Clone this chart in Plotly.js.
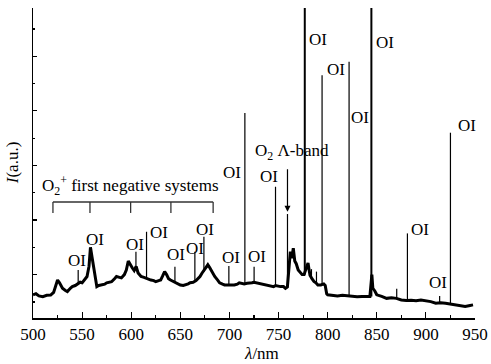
<!DOCTYPE html>
<html>
<head>
<meta charset="utf-8">
<script src="https://cdn.plot.ly/plotly-3.0.1.min.js"></script>
<style>html,body{margin:0;padding:0;background:#fff;}#chart{width:491px;height:364px;}</style>
</head>
<body>
<div id="chart"></div>
<script>
// Continuum (background spectrum): wavelength (nm) and intensity (a.u.)
var contWl = [500,503,506,510,514,518,521,523,525,527,530,533,535,538,540,543,546,548,550,553,555,557,558.5,560,561.5,563,565,567,570,573,575,578,580,583,585,588,590,593,595,597,599,601,603,605,607,610,613,616,620,623,625,628,630,632,634,636,638,640,643,645,648,650,653,655,658,660,663,666,668,670,672,674,676,678,680,682,685,688,690,693,695,698,700,703,705,708,710,713,715,718,720,723,725,728,730,735,740,743,745,747,749,752,755,757,759,760.5,762,763.5,765,766.5,768,770,772,774,776,778,780,781,782,784,786,788,790,793,796,797.5,799,800,805,810,815,820,823,825,830,835,840,843,845,846,848,850,855,860,865,870,875,880,885,890,895,900,905,910,915,920,925,930,935,940,945,948];
var contI  = [0.26,0.30,0.22,0.19,0.24,0.25,0.35,0.60,0.80,0.70,0.50,0.42,0.38,0.50,0.56,0.60,0.68,0.72,0.70,0.85,0.93,1.30,2.00,1.66,1.30,0.93,0.56,0.60,0.62,0.65,0.70,0.72,0.74,0.85,0.93,0.90,0.88,1.00,1.17,1.50,1.35,1.25,1.15,1.30,1.06,0.93,0.90,0.85,0.80,0.78,0.74,0.78,0.80,0.95,1.11,1.00,0.85,0.80,0.75,0.70,0.65,0.62,0.60,0.62,0.66,0.70,0.72,0.78,0.85,0.93,1.05,1.15,1.25,1.36,1.25,1.10,0.93,0.80,0.70,0.65,0.62,0.62,0.63,0.62,0.62,0.65,0.70,0.68,0.66,0.68,0.68,0.70,0.72,0.70,0.68,0.65,0.62,0.60,0.56,0.60,0.58,0.56,0.56,0.50,0.55,1.20,1.84,1.60,1.97,1.50,1.40,1.17,1.10,1.00,1.00,1.20,1.43,1.20,0.98,0.85,0.75,0.70,0.62,0.62,0.66,0.60,0.30,0.26,0.24,0.22,0.24,0.22,0.20,0.19,0.19,0.20,0.19,0.20,1.00,0.50,0.40,0.26,0.20,0.13,0.15,0.13,0.07,0.05,0.06,0.04,0.07,0.05,0.01,-0.05,-0.03,-0.05,-0.08,-0.11,-0.14,-0.17,-0.13,-0.11];

// Atomic emission lines: wavelength, base and peak intensity
var lineWl   = [546,604.8,615.6,644.5,664.8,674,699.4,715.7,725.1,746.9,759.1,783.5,788.6,794.3,821.8,870.3,881.2,914,925];
var lineBase = [0.68,1.20,0.88,0.72,0.74,1.10,0.62,0.66,0.70,0.60,0.55,0.85,0.70,0.62,0.20,0.13,0.05,-0.03,-0.08];
var lineTop  = [1.17,1.84,2.57,1.29,1.84,2.39,1.32,6.92,1.29,4.22,3.22,1.20,1.11,8.31,8.80,0.48,2.51,0.22,6.20];

// Strongest lines (go off scale)
var strongWl   = [776.7,844.5];
var strongBase = [1.00,0.20];
var strongTop  = [11.5,11.5];

// O2+ first negative system band heads (bracket)
var bandHeads = [520.3,558,599.4,640.4,683.4];

var axisTicks = [500,550,600,650,700,750,800,850,900,950];

function segs(w, b, t) {
  var x = [], y = [];
  for (var i = 0; i < w.length; i++) { x.push(w[i], w[i], null); y.push(b[i], t[i], null); }
  return {x: x, y: y};
}
var ls = segs(lineWl, lineBase, lineTop);
var ss = segs(strongWl, strongBase, strongTop);

var traces = [
  {x: contWl, y: contI, mode: 'lines', line: {color: '#000', width: 3}, hoverinfo: 'skip'},
  {x: ls.x, y: ls.y, mode: 'lines', line: {color: '#000', width: 1.2}, connectgaps: false, hoverinfo: 'skip'},
  {x: ss.x, y: ss.y, mode: 'lines', line: {color: '#000', width: 2}, connectgaps: false, hoverinfo: 'skip'}
];

var F = '"Liberation Serif", "Times New Roman", serif';
function lab(x, y, t) {
  return {x: x, y: y, xref: 'x', yref: 'y', text: t, showarrow: false,
          font: {family: F, size: 17, color: '#000'}, xanchor: 'center', yanchor: 'middle'};
}
var ann = [
  lab(544.8,1.50,'OI'), lab(563.1,2.27,'OI'), lab(603.8,2.09,'OI'), lab(628.2,2.56,'OI'),
  lab(645.5,1.72,'OI'), lab(664.8,1.94,'OI'), lab(675.0,2.67,'OI'), lab(701.4,1.61,'OI'),
  lab(702.4,4.76,'OI'), lab(727.9,1.65,'OI'), lab(740.1,4.58,'OI'),
  lab(763.5,5.49,'O<sub>2</sub> Λ-band'),
  lab(789.9,9.60,'OI'), lab(808.2,8.53,'OI'), lab(832.7,6.74,'OI'), lab(858.1,9.49,'OI'),
  lab(941.5,6.48,'OI'), lab(893.7,2.64,'OI'), lab(912.0,0.70,'OI'),
  lab(599.7,4.25,'O<sub>2</sub><sup>+</sup> first negative systems'),
  {x: 759.1, y: 3.30, xref: 'x', yref: 'y', ax: 0, ay: -44, text: '', showarrow: true,
   arrowhead: 2, arrowsize: 1, arrowwidth: 1.2, arrowcolor: '#000'},
  {x: -0.047, y: 0.50, xref: 'paper', yref: 'paper', text: '<i>I</i>(a.u.)', textangle: -90,
   showarrow: false, font: {family: F, size: 17, color: '#000'}, xanchor: 'center', yanchor: 'middle'},
  {x: 0.516, y: -0.113, xref: 'paper', yref: 'paper', text: '<i>λ</i>/nm',
   showarrow: false, font: {family: F, size: 17, color: '#000'}, xanchor: 'center', yanchor: 'middle'}
];

var shapes = [{type: 'line', xref: 'x', yref: 'y', x0: bandHeads[0], x1: bandHeads[bandHeads.length-1],
               y0: 3.66, y1: 3.66, line: {color: '#333', width: 1.3}}];
bandHeads.forEach(function (b) {
  shapes.push({type: 'line', xref: 'x', yref: 'y', x0: b, x1: b, y0: 3.66, y1: 3.26, line: {color: '#333', width: 1.3}});
});

var layout = {
  width: 491, height: 364,
  margin: {l: 33, r: 16, t: 8, b: 46},
  paper_bgcolor: '#fff', plot_bgcolor: '#fff',
  showlegend: false,
  font: {family: F, size: 17, color: '#000'},
  xaxis: {range: [500, 950], tickmode: 'array', tickvals: axisTicks, ticktext: axisTicks.map(String),
          showline: true, linecolor: '#000', linewidth: 1.5, ticks: 'inside', ticklen: 6, tickwidth: 1.2,
          tickcolor: '#000', showgrid: false, zeroline: false,
          minor: {ticks: 'inside', ticklen: 3, tickwidth: 1.2, tickcolor: '#000', dtick: 25, tick0: 500, showgrid: false},
          tickfont: {family: F, size: 17, color: '#000'}},
  yaxis: {range: [-0.59, 10.77], tick0: 1, dtick: 2, showticklabels: false,
          showline: true, linecolor: '#000', linewidth: 1.5, ticks: 'inside', ticklen: 4, tickwidth: 1.2,
          tickcolor: '#000', showgrid: false, zeroline: false,
          minor: {ticks: 'inside', ticklen: 2, tickwidth: 1.2, tickcolor: '#000', dtick: 1, showgrid: false}},
  annotations: ann,
  shapes: shapes
};

Plotly.newPlot('chart', traces, layout, {staticPlot: true, displayModeBar: false});
</script>
</body>
</html>
